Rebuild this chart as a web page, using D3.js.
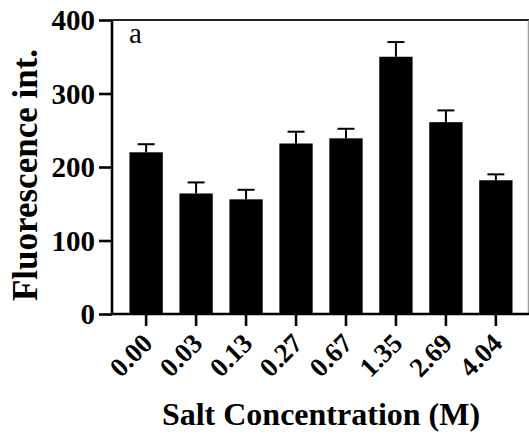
<!DOCTYPE html>
<html>
<head>
<meta charset="utf-8">
<script src="https://cdn.jsdelivr.net/npm/d3@7"></script>
<style>
  html, body { margin: 0; padding: 0; background: #fff; }
  svg { display: block; }
  text { font-family: "Liberation Serif", "Times New Roman", serif; }
</style>
</head>
<body>
<svg id="chart" width="529" height="438"></svg>
<script>
// Fluorescence intensity at each salt concentration (mean and error)
const categories = ["0.00", "0.03", "0.13", "0.27", "0.67", "1.35", "2.69", "4.04"];
const values = [220, 164, 156, 232, 239, 350, 261, 182];
const errors = [11, 15, 13, 16, 13, 20, 16, 8];
const yTicks = [0, 100, 200, 300, 400];

const svg = d3.select("#chart");
const plotLeft = 112, plotRight = 530, plotTop = 20, plotBottom = 314;

const x = d3.scaleBand()
  .domain(categories)
  .range([plotLeft, plotRight])
  .paddingInner(1 / 3)
  .paddingOuter(0.35);

const y = d3.scaleLinear().domain([0, 400]).range([plotBottom, plotTop]);

// top frame and right edge
svg.append("line")
  .attr("x1", plotLeft).attr("x2", 529)
  .attr("y1", plotTop).attr("y2", plotTop)
  .attr("stroke", "#222").attr("stroke-width", 2.2);
svg.append("line")
  .attr("x1", 528.3).attr("x2", 528.3)
  .attr("y1", plotTop).attr("y2", plotBottom)
  .attr("stroke", "#888").attr("stroke-width", 1);

// bars
svg.append("g").selectAll("rect")
  .data(values)
  .join("rect")
  .attr("x", (d, i) => x(categories[i]))
  .attr("width", x.bandwidth())
  .attr("y", d => y(d))
  .attr("height", d => y(0) - y(d))
  .attr("fill", "#000");

// error bars (upper only)
const eb = svg.append("g").attr("stroke", "#000").attr("stroke-width", 2);
values.forEach((v, i) => {
  const cx = x(categories[i]) + x.bandwidth() / 2;
  eb.append("line").attr("x1", cx).attr("x2", cx).attr("y1", y(v)).attr("y2", y(v + errors[i]));
  eb.append("line").attr("x1", cx - 8.5).attr("x2", cx + 8.5).attr("y1", y(v + errors[i])).attr("y2", y(v + errors[i]));
});

// y axis
const yAxis = svg.append("g")
  .attr("transform", `translate(${plotLeft},0)`)
  .call(d3.axisLeft(y).tickValues(yTicks).tickSize(13).tickPadding(4).tickFormat(d3.format("d")));
yAxis.select(".domain").attr("stroke", "#000").attr("stroke-width", 2.6).attr("d", `M0,${plotTop}V${plotBottom}`);
yAxis.selectAll(".tick line").attr("stroke", "#000").attr("stroke-width", 2.6);
yAxis.selectAll(".tick text")
  .attr("fill", "#000")
  .style("font-family", "Liberation Serif")
  .style("font-weight", "bold")
  .style("font-size", "29px")
  .attr("dy", "0.34em");

// x axis
const xAxis = svg.append("g")
  .attr("transform", `translate(0,${plotBottom})`)
  .call(d3.axisBottom(x).tickSize(12).tickPadding(4));
xAxis.select(".domain").attr("stroke", "#000").attr("stroke-width", 2.6).attr("d", `M${plotLeft},0H529`);
xAxis.selectAll(".tick line").attr("stroke", "#000").attr("stroke-width", 2.6);
xAxis.selectAll(".tick text")
  .attr("fill", "#000")
  .style("font-family", "Liberation Serif")
  .style("font-weight", "bold")
  .style("font-size", "27px")
  .attr("text-anchor", "end")
  .attr("dy", "0")
  .attr("transform", "translate(8,31) rotate(-45)")
  .attr("y", 0).attr("x", 0);

// panel letter
svg.append("text")
  .attr("x", 129).attr("y", 43)
  .style("font-size", "29px")
  .text("a");

// axis titles
svg.append("text")
  .attr("transform", "translate(37,175) rotate(-90)")
  .attr("text-anchor", "middle")
  .style("font-weight", "bold")
  .style("font-size", "35px")
  .text("Fluorescence int.");

svg.append("text")
  .attr("x", 321).attr("y", 425)
  .attr("text-anchor", "middle")
  .style("font-weight", "bold")
  .style("font-size", "32px")
  .text("Salt Concentration (M)");
</script>
</body>
</html>
